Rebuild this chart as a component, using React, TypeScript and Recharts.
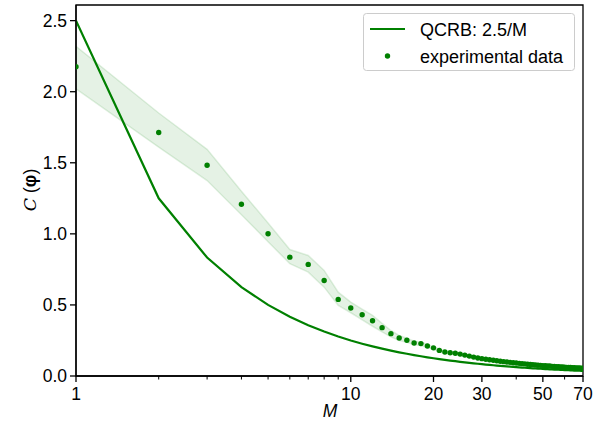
import React from "react";
import {
  ComposedChart,
  XAxis,
  YAxis,
  Line,
  Area,
  Scatter,
  ReferenceArea,
} from "recharts";

const M_VALUES = [
  1, 2, 3, 4, 5, 6, 7, 8, 9, 10, 11, 12, 13, 14, 15, 16, 17, 18, 19, 20, 21, 22,
  23, 24, 25, 26, 27, 28, 29, 30, 31, 32, 33, 34, 35, 36, 37, 38, 39, 40, 41, 42,
  43, 44, 45, 46, 47, 48, 49, 50, 51, 52, 53, 54, 55, 56, 57, 58, 59, 60, 61, 62,
  63, 64, 65, 66, 67, 68, 69, 70,
];

const QCRB = [
  2.5, 1.25, 0.8333, 0.625, 0.5, 0.4167, 0.3571, 0.3125, 0.2778, 0.25, 0.2273,
  0.2083, 0.1923, 0.1786, 0.1667, 0.1563, 0.1471, 0.1389, 0.1316, 0.125, 0.119,
  0.1136, 0.1087, 0.1042, 0.1, 0.0962, 0.0926, 0.0893, 0.0862, 0.0833, 0.0806,
  0.0781, 0.0758, 0.0735, 0.0714, 0.0694, 0.0676, 0.0658, 0.0641, 0.0625, 0.061,
  0.0595, 0.0581, 0.0568, 0.0556, 0.0543, 0.0532, 0.0521, 0.051, 0.05, 0.049,
  0.0481, 0.0472, 0.0463, 0.0455, 0.0446, 0.0439, 0.0431, 0.0424, 0.0417, 0.041,
  0.0403, 0.0397, 0.0391, 0.0385, 0.0379, 0.0373, 0.0368, 0.0362, 0.0357,
];

const EXPERIMENTAL = [
  2.176, 1.713, 1.483, 1.208, 1.001, 0.836, 0.785, 0.672, 0.539, 0.478, 0.431,
  0.389, 0.34, 0.298, 0.267, 0.251, 0.232, 0.228, 0.211, 0.198, 0.18, 0.169,
  0.164, 0.16, 0.154, 0.147, 0.14, 0.133, 0.127, 0.122, 0.118, 0.114, 0.111,
  0.107, 0.104, 0.101, 0.098, 0.096, 0.093, 0.091, 0.089, 0.087, 0.085, 0.083,
  0.081, 0.08, 0.078, 0.076, 0.075, 0.073, 0.072, 0.071, 0.07, 0.068, 0.067,
  0.066, 0.065, 0.064, 0.063, 0.062, 0.061, 0.061, 0.06, 0.059, 0.058, 0.057,
  0.057, 0.056, 0.055, 0.055,
];

const BAND_LOW = [
  2.02, 1.61, 1.375, 1.135, 0.945, 0.79, 0.731, 0.625, 0.497, 0.445, 0.395,
  0.35, 0.31, 0.275, 0.25, 0.237, 0.22, 0.215, 0.2, 0.188, 0.171, 0.16, 0.155,
  0.151, 0.145, 0.139, 0.132, 0.125, 0.119, 0.114, 0.11, 0.106, 0.103, 0.1,
  0.097, 0.094, 0.091, 0.089, 0.086, 0.084, 0.083, 0.081, 0.079, 0.077, 0.075,
  0.074, 0.072, 0.071, 0.07, 0.068, 0.067, 0.066, 0.065, 0.064, 0.063, 0.062,
  0.061, 0.06, 0.059, 0.058, 0.057, 0.057, 0.056, 0.055, 0.054, 0.053, 0.053,
  0.052, 0.051, 0.051,
];

const BAND_HIGH = [
  2.32, 1.85, 1.595, 1.3, 1.077, 0.89, 0.848, 0.743, 0.59, 0.52, 0.47, 0.427,
  0.37, 0.32, 0.285, 0.266, 0.245, 0.24, 0.222, 0.208, 0.189, 0.178, 0.173,
  0.169, 0.163, 0.155, 0.148, 0.141, 0.135, 0.13, 0.126, 0.122, 0.119, 0.114,
  0.111, 0.108, 0.105, 0.103, 0.1, 0.098, 0.095, 0.093, 0.091, 0.089, 0.087,
  0.086, 0.084, 0.081, 0.08, 0.078, 0.077, 0.076, 0.075, 0.072, 0.071, 0.07,
  0.069, 0.068, 0.067, 0.066, 0.065, 0.065, 0.064, 0.063, 0.062, 0.061, 0.061,
  0.06, 0.059, 0.059,
];

const X_TICKS = [1, 2, 3, 4, 5, 6, 7, 8, 9, 10, 20, 30, 40, 50, 60, 70];
const X_MAJOR = [1, 10, 20, 30, 50, 70];
const Y_TICKS = [0, 0.5, 1.0, 1.5, 2.0, 2.5];

const data = M_VALUES.map((m, i) => ({
  M: m,
  qcrb: QCRB[i],
  exp: EXPERIMENTAL[i],
  band: [BAND_LOW[i], BAND_HIGH[i]],
}));

const FONT = "'Liberation Sans', Arial, sans-serif";
const GREEN = "#008000";

const XTick = (props: any) => {
  const { x, y, payload } = props;
  const v = payload.value;
  const major = X_MAJOR.includes(v);
  return (
    <g>
      <line
        x1={x}
        x2={x}
        y1={y}
        y2={y + (major ? 6 : 3.5)}
        stroke="#000"
        strokeWidth={major ? 1.3 : 1}
      />
      {major && (
        <text
          x={x}
          y={y + 24}
          textAnchor="middle"
          fontFamily={FONT}
          fontSize={17.5}
          fill="#000"
        >
          {v}
        </text>
      )}
    </g>
  );
};

const Dot = (props: any) => {
  const { cx, cy } = props;
  if (cx == null || cy == null) return null;
  return <circle cx={cx} cy={cy} r={2.7} fill={GREEN} />;
};

export default function App() {
  return (
    <div style={{ position: "absolute", left: 0, top: 0, width: 601, height: 424, background: "#fff" }}>
      <ComposedChart
        width={601}
        height={424}
        data={data}
        margin={{ top: 5, right: 18, bottom: 0, left: 0 }}
      >
        <XAxis
          dataKey="M"
          type="number"
          scale="log"
          domain={[1, 70]}
          ticks={X_TICKS}
          interval={0}
          allowDataOverflow
          height={48}
          tickSize={0}
          tickMargin={0}
          tickLine={false}
          tick={<XTick />}
          axisLine={{ stroke: "#000", strokeWidth: 1.3 }}
        />
        <YAxis
          type="number"
          domain={[0, 2.61]}
          ticks={Y_TICKS}
          allowDataOverflow
          width={76}
          tickSize={6}
          tickMargin={3}
          tickFormatter={(v: number) => v.toFixed(1)}
          tick={{ fontFamily: FONT, fontSize: 17.5, fill: "#000" }}
          tickLine={{ stroke: "#000", strokeWidth: 1.3 }}
          axisLine={{ stroke: "#000", strokeWidth: 1.3 }}
        />
        <Area
          dataKey="band"
          type="linear"
          fill={GREEN}
          fillOpacity={0.1}
          stroke={GREEN}
          strokeOpacity={0.12}
          strokeWidth={1.5}
          isAnimationActive={false}
          activeDot={false}
        />
        <Line
          dataKey="qcrb"
          type="linear"
          stroke={GREEN}
          strokeWidth={2.2}
          dot={false}
          activeDot={false}
          isAnimationActive={false}
        />
        <Scatter dataKey="exp" fill={GREEN} shape={<Dot />} isAnimationActive={false} />
        <ReferenceArea
          x1={1}
          x2={70}
          y1={0}
          y2={2.61}
          fill="none"
          stroke="#000"
          strokeWidth={1.3}
          ifOverflow="visible"
        />
      </ComposedChart>
      <svg
        width={601}
        height={424}
        style={{ position: "absolute", left: 0, top: 0, pointerEvents: "none" }}
      >
        <text
          x={330}
          y={417}
          textAnchor="middle"
          fontFamily={FONT}
          fontSize={17.5}
          fontStyle="italic"
          fill="#000"
        >
          M
        </text>
        <text
          transform="translate(36,190) rotate(-90)"
          textAnchor="middle"
          fontFamily={FONT}
          fontSize={17.5}
          fill="#000"
        >
          <tspan fontFamily="'DejaVu Serif', serif" fontStyle="italic">C</tspan>
          <tspan> (</tspan>
          <tspan fontWeight="bold">φ</tspan>
          <tspan>)</tspan>
        </text>
        <rect
          x={363.5}
          y={13.5}
          width={211}
          height={57}
          rx={3}
          fill="#fff"
          fillOpacity={0.8}
          stroke="#cccccc"
          strokeWidth={1}
        />
        <line x1={370} x2={405} y1={29} y2={29} stroke={GREEN} strokeWidth={2.2} />
        <circle cx={387.5} cy={56} r={2.7} fill={GREEN} />
        <text x={420} y={35.5} fontFamily={FONT} fontSize={18} fill="#000">
          QCRB: 2.5/M
        </text>
        <text x={420} y={62.5} fontFamily={FONT} fontSize={18} fill="#000">
          experimental data
        </text>
      </svg>
    </div>
  );
}
